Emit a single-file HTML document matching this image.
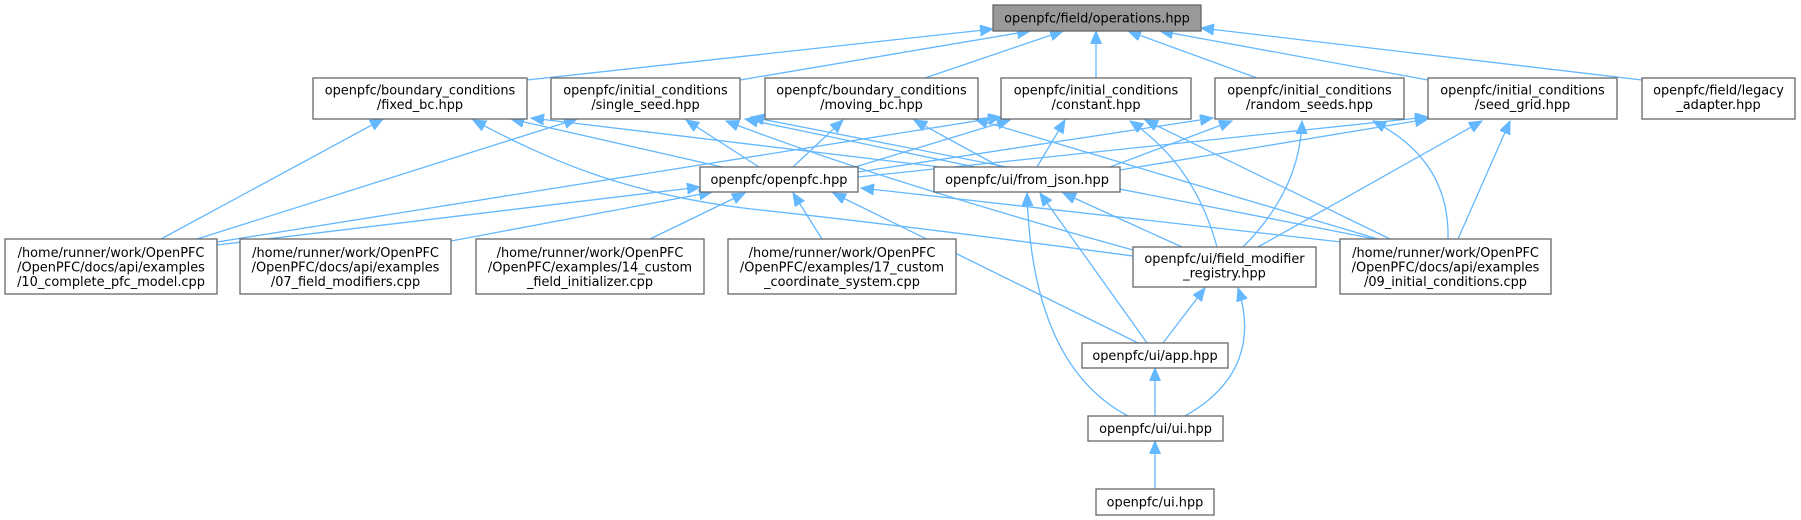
<!DOCTYPE html>
<html><head><meta charset="utf-8"><style>
html,body{margin:0;padding:0;background:#fff;}
svg{display:block;}
text{font-family:"DejaVu Sans","Liberation Sans",sans-serif;font-size:12.9px;fill:#000;text-anchor:middle;}
.b{fill:#fff;stroke:#666;stroke-width:1.3;}
.r{fill:#999;stroke:#666;stroke-width:1.3;}
.e{fill:none;stroke:#63b8ff;stroke-width:1.3;marker-end:url(#a);}
</style></head><body>
<svg width="1801" height="520" viewBox="0 0 1801 520" xmlns="http://www.w3.org/2000/svg">
<defs><marker id="a" markerWidth="14" markerHeight="12" refX="13" refY="5.5" orient="auto" markerUnits="userSpaceOnUse"><path d="M0,0 L13,5.5 L0,11 z" fill="#63b8ff" stroke="#63b8ff" stroke-width="1"/></marker></defs>

<!-- edges to operations -->
<path class="e" d="M527,80 L993,29"/>
<path class="e" d="M740,80 L1030,31"/>
<path class="e" d="M925,78 L1063,31"/>
<path class="e" d="M1096,78 L1096,31"/>
<path class="e" d="M1257,78 L1128,31"/>
<path class="e" d="M1428,80 L1160,31"/>
<path class="e" d="M1642,80 L1201,28"/>
<!-- to fixed_bc -->
<path class="e" d="M161,239 L383,119"/>
<path class="e" d="M1133,256 C1050,245 900,225 760,210 C620,195 540,155 473,120"/>
<path class="e" d="M722,167 L511,119"/>
<path class="e" d="M940,167 L531,118"/>
<!-- to single_seed -->
<path class="e" d="M197,239 L577,119"/>
<path class="e" d="M759,167 L686,120"/>
<path class="e" d="M975,167 L745,119"/>
<path class="e" d="M1133,250 Q880,180 726,121"/>
<path class="e" d="M1375,239 L751,117"/>
<!-- to moving_bc -->
<path class="e" d="M793,167 L843,120"/>
<path class="e" d="M1000,167 L914,120"/>
<path class="e" d="M1378,239 L975,119"/>
<!-- to constant -->
<path class="e" d="M217,242 L1001,117"/>
<path class="e" d="M855,167 L1010,120"/>
<path class="e" d="M1037,167 L1065,120"/>
<path class="e" d="M1217,247 Q1195,165 1130,121"/>
<path class="e" d="M1390,239 L1145,120"/>
<!-- to random_seeds -->
<path class="e" d="M858,172 L1213,118"/>
<path class="e" d="M1110,167 L1232,121"/>
<path class="e" d="M1243,247 Q1300,190 1302,121"/>
<path class="e" d="M1448,239 Q1450,160 1373,121"/>
<!-- to seed_grid -->
<path class="e" d="M858,177 L1428,117"/>
<path class="e" d="M1120,170 L1428,119"/>
<path class="e" d="M1258,247 L1482,121"/>
<path class="e" d="M1458,239 L1510,121"/>
<!-- to openpfc.hpp -->
<path class="e" d="M217,245 L700,187"/>
<path class="e" d="M451,241 L712,192"/>
<path class="e" d="M650,239 L745,193"/>
<path class="e" d="M822,239 L793,193"/>
<path class="e" d="M1138,343 L833,193"/>
<path class="e" d="M1341,242 L861,188"/>
<!-- to from_json -->
<path class="e" d="M1128,416 C1060,380 1030,300 1027,193"/>
<path class="e" d="M1147,343 L1040,193"/>
<path class="e" d="M1182,247 L1063,193"/>
<!-- to field_modifier_registry -->
<path class="e" d="M1163,343 L1205,288"/>
<path class="e" d="M1185,416 C1240,385 1255,340 1238,288"/>
<!-- to app / ui -->
<path class="e" d="M1155,416 L1155,368"/>
<path class="e" d="M1155,489 L1155,441"/>

<!-- nodes -->
<rect class="r" x="993" y="5" width="208" height="26"/>
<text x="1097" y="22.5">openpfc/field/operations.hpp</text>

<rect class="b" x="313" y="78" width="214" height="41"/>
<text x="420" y="94.5">openpfc/boundary_conditions</text><text x="420" y="109">/fixed_bc.hpp</text>

<rect class="b" x="551" y="78" width="189" height="41"/>
<text x="645.5" y="94.5">openpfc/initial_conditions</text><text x="645.5" y="109">/single_seed.hpp</text>

<rect class="b" x="765" y="78" width="213" height="41"/>
<text x="871.5" y="94.5">openpfc/boundary_conditions</text><text x="871.5" y="109">/moving_bc.hpp</text>

<rect class="b" x="1001" y="78" width="190" height="41"/>
<text x="1096" y="94.5">openpfc/initial_conditions</text><text x="1096" y="109">/constant.hpp</text>

<rect class="b" x="1215" y="78" width="189" height="41"/>
<text x="1309.5" y="94.5">openpfc/initial_conditions</text><text x="1309.5" y="109">/random_seeds.hpp</text>

<rect class="b" x="1428" y="78" width="189" height="41"/>
<text x="1522.5" y="94.5">openpfc/initial_conditions</text><text x="1522.5" y="109">/seed_grid.hpp</text>

<rect class="b" x="1642" y="78" width="153" height="41"/>
<text x="1718.5" y="94.5">openpfc/field/legacy</text><text x="1718.5" y="109">_adapter.hpp</text>

<rect class="b" x="700" y="167" width="158" height="25"/>
<text x="779" y="184">openpfc/openpfc.hpp</text>

<rect class="b" x="934" y="167" width="186" height="25"/>
<text x="1027" y="184">openpfc/ui/from_json.hpp</text>

<rect class="b" x="5" y="239" width="212" height="55"/>
<text x="111" y="257">/home/runner/work/OpenPFC</text><text x="111" y="271.5">/OpenPFC/docs/api/examples</text><text x="111" y="286">/10_complete_pfc_model.cpp</text>

<rect class="b" x="240" y="239" width="211" height="55"/>
<text x="345.5" y="257">/home/runner/work/OpenPFC</text><text x="345.5" y="271.5">/OpenPFC/docs/api/examples</text><text x="345.5" y="286">/07_field_modifiers.cpp</text>

<rect class="b" x="476" y="239" width="228" height="55"/>
<text x="590" y="257">/home/runner/work/OpenPFC</text><text x="590" y="271.5">/OpenPFC/examples/14_custom</text><text x="590" y="286">_field_initializer.cpp</text>

<rect class="b" x="728" y="239" width="228" height="55"/>
<text x="842" y="257">/home/runner/work/OpenPFC</text><text x="842" y="271.5">/OpenPFC/examples/17_custom</text><text x="842" y="286">_coordinate_system.cpp</text>

<rect class="b" x="1133" y="247" width="183" height="40"/>
<text x="1224.5" y="263">openpfc/ui/field_modifier</text><text x="1224.5" y="277.5">_registry.hpp</text>

<rect class="b" x="1340" y="239" width="211" height="55"/>
<text x="1445.5" y="257">/home/runner/work/OpenPFC</text><text x="1445.5" y="271.5">/OpenPFC/docs/api/examples</text><text x="1445.5" y="286">/09_initial_conditions.cpp</text>

<rect class="b" x="1082" y="343" width="146" height="25"/>
<text x="1155" y="360">openpfc/ui/app.hpp</text>

<rect class="b" x="1088" y="416" width="135" height="25"/>
<text x="1155.5" y="433">openpfc/ui/ui.hpp</text>

<rect class="b" x="1096" y="489" width="118" height="26"/>
<text x="1155" y="506.5">openpfc/ui.hpp</text>
</svg>
</body></html>
